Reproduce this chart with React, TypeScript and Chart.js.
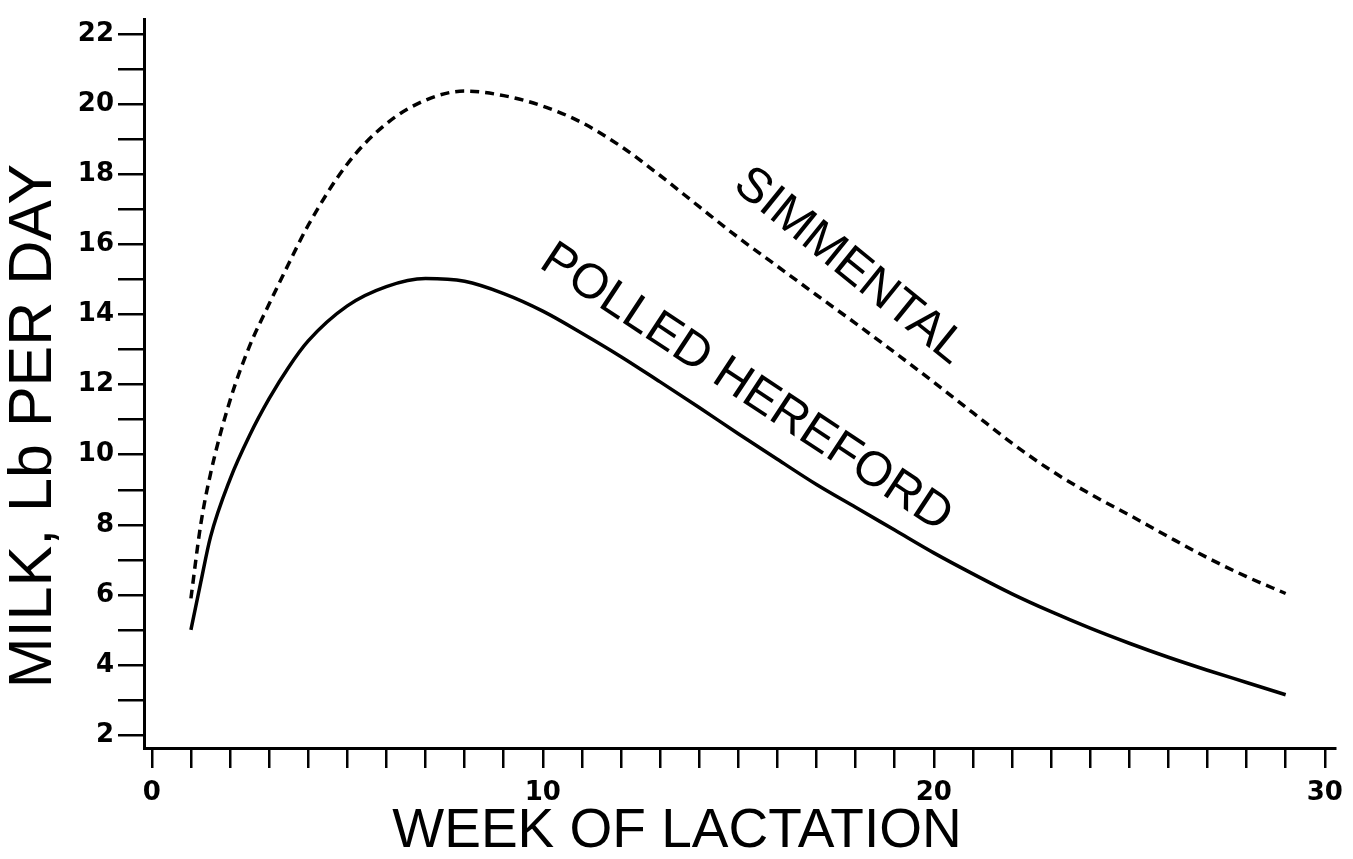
import React, { useEffect, useRef } from "react";
import { Chart, registerables } from "chart.js";

Chart.register(...registerables);

// Simmental (dashed)
const simWeeks = [1, 1.25, 1.5, 2, 2.5, 3, 3.5, 4, 5, 6, 7, 8, 9, 10, 11, 12, 13, 14, 15, 16, 17, 18, 19, 20, 21, 22, 23, 24, 25, 26, 27, 28, 29];
const simMilk = [5.9, 8.0, 9.45, 11.55, 13.1, 14.3, 15.45, 16.55, 18.3, 19.45, 20.12, 20.38, 20.25, 19.95, 19.48, 18.8, 17.97, 17.08, 16.2, 15.38, 14.56, 13.75, 12.92, 12.07, 11.2, 10.33, 9.55, 8.88, 8.28, 7.66, 7.06, 6.52, 6.04];

// Polled Hereford (solid)
const herWeeks = [1, 1.25, 1.5, 2, 2.5, 3, 3.5, 4, 5, 6, 7, 8, 9, 10, 11, 12, 13, 14, 15, 16, 17, 18, 19, 20, 21, 22, 23, 24, 25, 26, 27, 28, 29];
const herMilk = [5.0, 6.35, 7.65, 9.3, 10.55, 11.6, 12.5, 13.25, 14.25, 14.8, 15.03, 14.95, 14.6, 14.1, 13.47, 12.8, 12.08, 11.35, 10.6, 9.87, 9.15, 8.5, 7.85, 7.2, 6.6, 6.03, 5.52, 5.05, 4.62, 4.22, 3.85, 3.5, 3.15];

const xTicks = Array.from({ length: 31 }, (_, i) => i); // 0..30 weekly ticks
const xLabels = [0, 10, 20, 30];
const yTicks = Array.from({ length: 21 }, (_, i) => i + 2); // 2..22
const yLabels = [2, 4, 6, 8, 10, 12, 14, 16, 18, 20, 22];

const xTitle = "WEEK OF LACTATION";
const yTitle = "MILK, Lb PER DAY";
const simName = "SIMMENTAL";
const herName = "POLLED HEREFORD";

const FONT = "'Liberation Sans', Arial, Helvetica, sans-serif";
const TICK_FONT = "'DejaVu Sans', 'Liberation Sans', sans-serif";

const textPlugin = {
  id: "customText",
  afterDraw(chart: any) {
    const { ctx, scales } = chart;
    const xs = scales.x;
    const ys = scales.y;
    ctx.save();
    ctx.fillStyle = "#000";
    ctx.textAlign = "center";
    ctx.textBaseline = "middle";

    // X axis title
    ctx.font = `55px ${FONT}`;
    ctx.fillText(xTitle, 677, 832);

    // Y axis title
    ctx.save();
    ctx.translate(34, 426);
    ctx.rotate(-Math.PI / 2);
    ctx.font = `61px ${FONT}`;
    ctx.fillText(yTitle, 0, 0);
    ctx.restore();

    // Curve labels
    ctx.font = `49px ${FONT}`;
    ctx.save();
    ctx.translate(xs.getPixelForValue(17.85), ys.getPixelForValue(15.38));
    ctx.rotate((39 * Math.PI) / 180);
    ctx.fillText(simName, 0, 0);
    ctx.restore();

    ctx.save();
    ctx.translate(xs.getPixelForValue(15.2), ys.getPixelForValue(11.9));
    ctx.rotate((33.5 * Math.PI) / 180);
    ctx.fillText(herName, 0, 0);
    ctx.restore();

    ctx.restore();
  },
};

export default function App() {
  const ref = useRef<HTMLCanvasElement | null>(null);

  useEffect(() => {
    if (!ref.current) return;
    const chart = new Chart(ref.current, {
      type: "line",
      data: {
        datasets: [
          {
            label: simName,
            data: simWeeks.map((w, i) => ({ x: w, y: simMilk[i] })),
            borderColor: "#000",
            borderWidth: 3.5,
            borderDash: [9, 6],
            pointRadius: 0,
            cubicInterpolationMode: "monotone",
            fill: false,
          },
          {
            label: herName,
            data: herWeeks.map((w, i) => ({ x: w, y: herMilk[i] })),
            borderColor: "#000",
            borderWidth: 3.5,
            pointRadius: 0,
            cubicInterpolationMode: "monotone",
            fill: false,
          },
        ],
      },
      options: {
        responsive: false,
        animation: false,
        layout: { padding: { top: 12, right: 18, left: 0, bottom: 0 } },
        plugins: {
          legend: { display: false },
          tooltip: { enabled: false },
          title: { display: false },
        },
        scales: {
          x: {
            type: "linear",
            min: -0.2,
            max: 30.26,
            afterBuildTicks: (scale: any) => {
              scale.ticks = xTicks.map((v) => ({ value: v }));
            },
            afterFit: (scale: any) => {
              scale.height = 111;
            },
            grid: {
              drawOnChartArea: false,
              drawTicks: true,
              tickLength: 20,
              color: "#000",
              lineWidth: 2.5,
            },
            border: { display: true, color: "#000", width: 3 },
            ticks: {
              autoSkip: false,
              maxRotation: 0,
              padding: 10,
              color: "#000",
              font: { family: TICK_FONT, size: 26, weight: "bold" },
              callback: (v: any) => (xLabels.includes(Number(v)) ? String(v) : ""),
            },
          },
          y: {
            type: "linear",
            min: 1.63,
            max: 22.42,
            afterBuildTicks: (scale: any) => {
              scale.ticks = yTicks.map((v) => ({ value: v }));
            },
            afterFit: (scale: any) => {
              scale.width = 144;
            },
            grid: {
              drawOnChartArea: false,
              drawTicks: true,
              tickLength: 26,
              color: "#000",
              lineWidth: 2.5,
            },
            border: { display: true, color: "#000", width: 3 },
            ticks: {
              autoSkip: false,
              padding: 4,
              color: "#000",
              font: { family: TICK_FONT, size: 26, weight: "bold" },
              callback: (v: any) => (yLabels.includes(Number(v)) ? String(v) : ""),
            },
          },
        },
      },
      plugins: [textPlugin],
    });
    return () => chart.destroy();
  }, []);

  return (
    <div style={{ position: "fixed", left: 0, top: 0, width: 1353, height: 859, background: "#fff" }}>
      <canvas ref={ref} width={1353} height={859} style={{ width: 1353, height: 859, display: "block" }} />
    </div>
  );
}
